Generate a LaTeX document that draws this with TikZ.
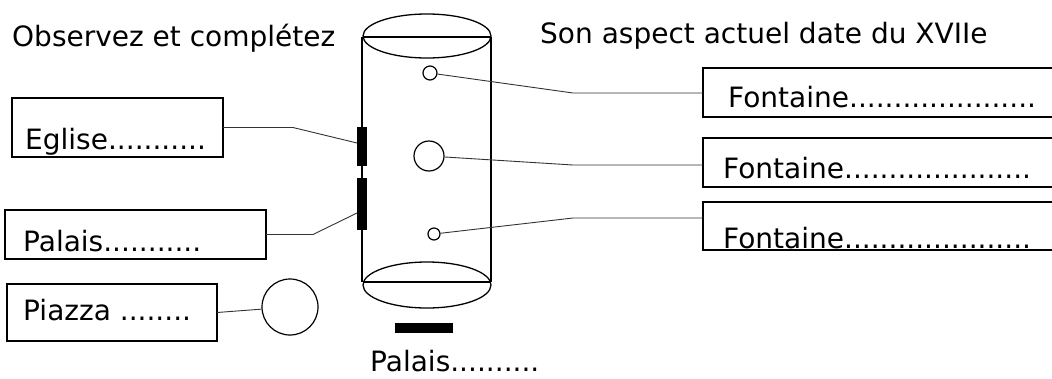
\documentclass[tikz,border=0pt]{standalone}
\usepackage{fontspec}
\setmainfont{DejaVu Sans}
\usetikzlibrary{positioning,shapes.geometric}

\begin{document}
\begin{tikzpicture}[
	  x=1pt, y=-1pt,
	  %style for texts
	  txt/.style={anchor=base west, inner sep=0pt, font=\fontsize{28}{33}\selectfont},
      % style for the answer boxes
      box/.style={rectangle, draw=black, line width=1.4pt, anchor=north west, inner sep=0pt, outer sep=0pt},
      % style for the black walls
      bar/.style={rectangle, fill=black, inner sep=0pt, outer sep=0pt},
      % style for the fountains
      fnt/.style={circle, draw=black, line width=1.2pt, inner sep=0pt},
      % style for the connectors
      lnk/.style={line width=0.9pt, draw=black!80}]

      \useasboundingbox (0,0) rectangle (1052,378);
      \clip (0,0) rectangle (1052,378);

      % titles
      \node[txt](obs) at (12,46) {Observez et complétez};
      \node[txt](aspect) at (540,43) {Son aspect actuel date du XVIIe};

      % the square
      \draw[line width=1.3pt] (427,36) ellipse [x radius=64, y radius=22];
      \draw[line width=1.3pt] (427,285) ellipse [x radius=64, y radius=23];
      \draw[line width=1.3pt] (363,37) -- (491,37);
      \draw[line width=1.3pt] (363,282) -- (491,282);
      \draw[line width=1.3pt] (362,37) -- (362,282);
      \draw[line width=1.3pt] (491,37) -- (491,282);

      % walls
      \node[bar, minimum width=10pt, minimum height=39pt](egliseBar) at (362,146.5) {};
      \node[bar, minimum width=10pt, minimum height=52pt](palaisBar) at (362,204) {};
      \node[bar, minimum width=58pt, minimum height=10pt](palaisBas) at (424,328) {};

      % fountains
      \node[fnt, minimum size=14pt](fontA) at (430,73) {};
      \node[fnt, minimum size=30pt](fontB) at (429,156) {};
      \node[fnt, minimum size=12pt](fontC) at (434,234) {};
      \node[fnt, minimum size=56pt](piazzaRond) at (290,307) {};

      % left boxes
      \node[box, minimum width=211pt, minimum height=59pt](eglise) at (12,98) {};
      \node[txt](egliseTxt) at (25,149) {Eglise...........};
      \node[box, minimum width=261pt, minimum height=49pt](palais) at (5,210) {};
      \node[txt](palaisTxt) at (23,251) {Palais...........};
      \node[box, minimum width=210pt, minimum height=57pt](piazza) at (7,284) {};
      \node[txt](piazzaTxt) at (23,320) {Piazza ........};

      % right boxes
      \node[box, minimum width=360pt, minimum height=49pt](fontaineA) at (703,68) {};
      \node[txt](fontaineATxt) at (728,107) {Fontaine.....................};
      \node[box, minimum width=360pt, minimum height=49pt](fontaineB) at (703,138) {};
      \node[txt](fontaineBTxt) at (723,178) {Fontaine.....................};
      \node[box, minimum width=360pt, minimum height=48pt](fontaineC) at (703,202) {};
      \node[txt](fontaineCTxt) at (723,248) {Fontaine.....................};

      % bottom label
      \node[txt](palaisBasTxt) at (370,371) {Palais..........};

      % connectors
      \coordinate (kinkE) at (293,127.5);
      \coordinate (kinkP) at (313,234.5);
      \coordinate (kinkA) at (573,93);
      \coordinate (kinkB) at (573,165);
      \coordinate (kinkC) at (573,218);
      \draw[lnk] (eglise.east) -- (kinkE) -- ([yshift=3.5pt]egliseBar.west);
      \draw[lnk] (palais.east) -- (kinkP) -- ([yshift=-9pt]palaisBar.west);
      \draw[lnk] (piazza.east) -- (piazzaRond);
      \draw[lnk] (fontA) -- (kinkA) -- (kinkA -| fontaineA.west);
      \draw[lnk] (fontB) -- (kinkB) -- (kinkB -| fontaineB.west);
      \draw[lnk] (fontC) -- (kinkC) -- (kinkC -| fontaineC.west);

\end{tikzpicture}
\end{document}
